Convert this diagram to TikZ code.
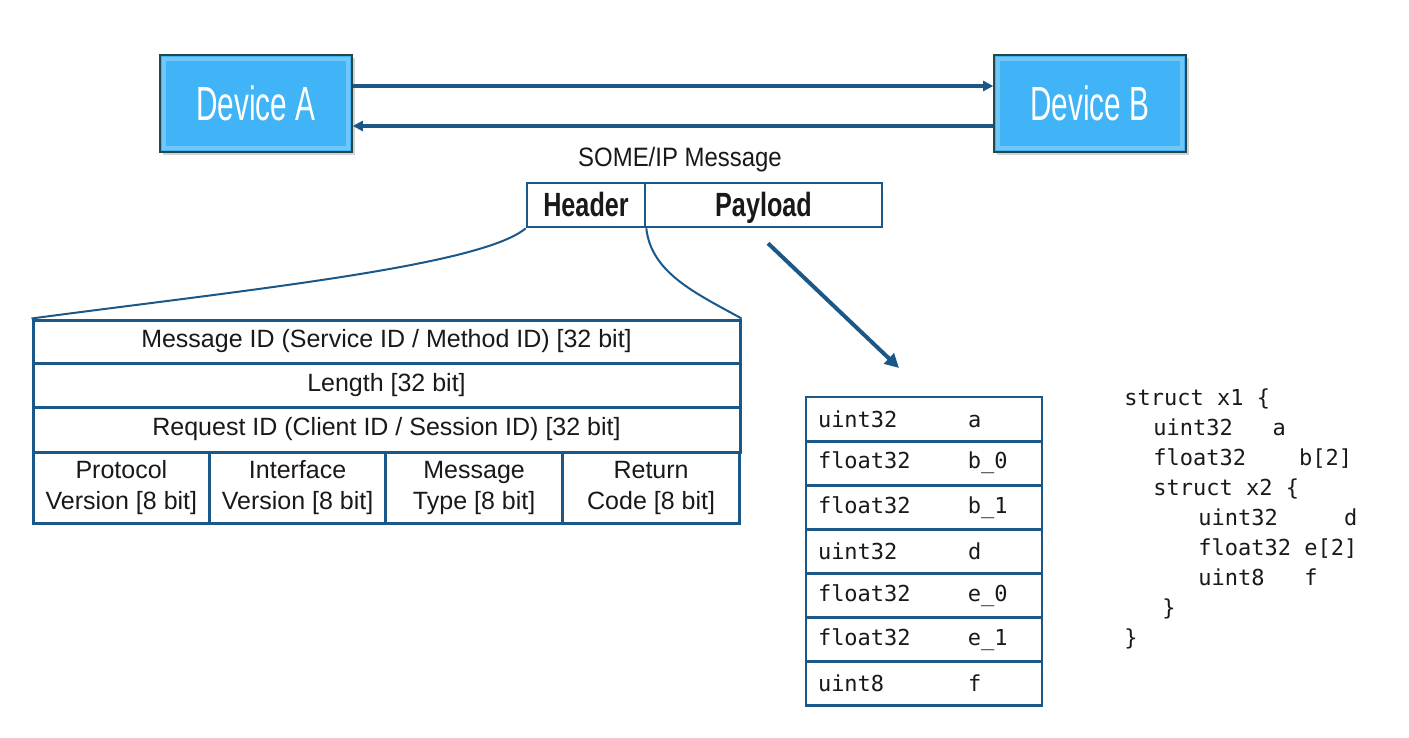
\documentclass[tikz,border=0pt]{standalone}
\usepackage{fontspec}
\setmainfont{Liberation Sans}
\setmonofont{DejaVu Sans Mono}
\newfontfamily\devfont[FakeStretch=0.62]{Liberation Sans}
\newfontfamily\narrowfont[FakeStretch=0.9]{Liberation Sans}
\newfontfamily\hdrfont[FakeStretch=0.75]{Liberation Sans}
\usetikzlibrary{arrows.meta, positioning, shadows}
\definecolor{cline}{RGB}{27,88,138}
\definecolor{cdev}{RGB}{64,180,246}
\definecolor{cdevedge}{RGB}{34,72,78}
\definecolor{ctext}{RGB}{25,25,25}

\begin{document}
\begin{tikzpicture}[
    x=0.5pt, y=-0.5pt,
    device/.style={
        draw=cdevedge, fill=cdev, line width=0.8pt,
        minimum width=96pt, minimum height=48.5pt,
        font=\devfont\fontsize{24}{28}\selectfont, text=white,
        drop shadow={shadow xshift=1.5pt, shadow yshift=-1.5pt, opacity=0.35},
        path picture={\draw[cdev!75!white, line width=1.6pt]
            ([shift={(2pt,-2pt)}]path picture bounding box.north west) rectangle
            ([shift={(-2pt,2pt)}]path picture bounding box.south east);}},
    flow/.style={-{Triangle[length=5pt,width=5pt]}, line width=1.8pt, draw=cline},
    msgbox/.style={draw=cline, line width=1.3pt, minimum height=22pt, inner sep=0pt,
        text height=12pt, text depth=1pt,
        font=\hdrfont\bfseries\fontsize{16.8}{20}\selectfont, text=ctext},
    field/.style={draw=cline, line width=1.5pt, inner sep=0pt, align=center,
        font=\fontsize{12.5}{15.5}\selectfont, text=ctext},
    cell/.style={field, minimum width=88.375pt, minimum height=35.5pt},
    fan/.style={draw=cline, line width=1pt},
    prow/.style={draw=cline, line width=1.4pt, minimum width=118pt, minimum height=22.05pt,
        text width=106pt, align=left, inner sep=0pt,
        font=\ttfamily\fontsize{11}{13}\selectfont, text=ctext},
    code/.style={anchor=base west, inner sep=0pt,
        font=\ttfamily\fontsize{11}{13}\selectfont, text=ctext}
]
\useasboundingbox (0,0) rectangle (1409,738);

%% Devices and the exchange between them
\node[device] (devA) at (256,103.5)  {Device A};
\node[device] (devB) at (1090,103.5) {Device B};
\draw[flow] ([yshift=8.75pt]devA.east)   -- ([yshift=8.75pt]devB.west);
\draw[flow] ([yshift=-11.25pt]devB.west) -- ([yshift=-11.25pt]devA.east);

%% Message: header + payload
\node[font=\narrowfont\fontsize{13.3}{16}\selectfont, anchor=base, text=ctext] (title) at (680,167) {SOME/IP Message};
\node[msgbox, minimum width=59pt]    (hdr) at (586,205)   {Header};
\node[msgbox, minimum width=118.5pt] (pld) at (763.5,205) {Payload};

%% Header fields
\node[field, minimum width=353.5pt, minimum height=21.5pt] (msgid) at (386.5,341.5)
    {Message ID (Service ID / Method ID) [32 bit]};
\node[field, minimum width=353.5pt, minimum height=22pt]   (len)   at (386.5,385)
    {Length [32 bit]};
\node[field, minimum width=353.5pt, minimum height=22.5pt] (reqid) at (386.5,429.5)
    {Request ID (Client ID / Session ID) [32 bit]};
\node[cell] (protv) at (121.4,488) {Protocol\\Version [8 bit]};
\node[cell] (ifv)   at (297.6,488) {Interface\\Version [8 bit]};
\node[cell] (mtype) at (474.1,488) {Message\\Type [8 bit]};
\node[cell] (rcode) at (651.1,488) {Return\\Code [8 bit]};

%% Zoom lines from the header down to its fields
\draw[fan] (hdr.south west) .. controls +(-45,38) and +(210,-28) .. (msgid.north west);
\draw[fan] (hdr.south east) .. controls +(5,45) and +(-45,-25) .. (msgid.north east);

%% Payload layout
\coordinate (pldin) at (899,368);
\draw[-{Triangle[length=7pt,width=7pt]}, line width=2pt, draw=cline]
    ([xshift=2.25pt,yshift=-7.5pt]pld.south) -- (pldin);
\foreach \ty/\nm [count=\i] in {uint32/a, float32/b\_0, float32/b\_1, uint32/d,
                                float32/e\_0, float32/e\_1, uint8/f}
    \node[prow] (row\i) at (924,{419.05+(\i-1)*44.1}) {\makebox[75pt][l]{\ty}\nm};

%% Struct definition
\foreach \xx/\txt [count=\i] in {1124/struct x1 \{, 1153/uint32~~~a, 1153/float32~~~~b[2],
                                 1153/struct x2 \{, 1198/uint32~~~~~d, 1198/float32 e[2],
                                 1198/uint8~~~f, 1162/\}, 1124/\}}
    \node[code] (ln\i) at (\xx,{405+(\i-1)*30}) {\txt};

\end{tikzpicture}
\end{document}
